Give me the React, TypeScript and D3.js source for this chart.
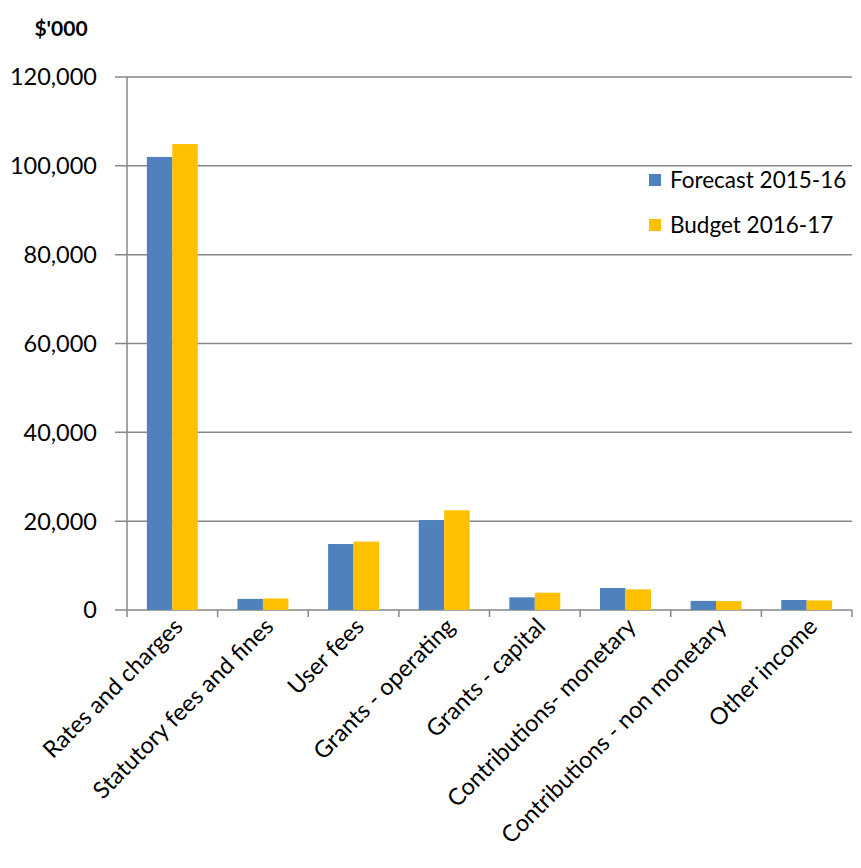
import { useMemo } from "react";
import * as d3 from "d3";

const categories = [
  "Rates and charges",
  "Statutory fees and fines",
  "User fees",
  "Grants - operating",
  "Grants - capital",
  "Contributions- monetary",
  "Contributions - non monetary",
  "Other income",
];
const forecast = [102000, 2500, 14850, 20250, 2850, 4950, 2050, 2250];
const budget = [104900, 2600, 15400, 22450, 3900, 4650, 2000, 2150];
const seriesNames = ["Forecast 2015-16", "Budget 2016-17"];
const seriesColors = ["#4F81BD", "#FFC000"];
const yTicks = [0, 20000, 40000, 60000, 80000, 100000, 120000];

const W = 861;
const H = 868;
const left = 127;
const right = 852;
const top = 77;
const bottom = 610;
const font = "Lato, 'Open Sans', sans-serif";
const fs = 23.5;

export default function App() {
  const x = useMemo(
    () => d3.scaleBand<string>().domain(categories).range([left, right]).paddingInner(0).paddingOuter(0),
    [],
  );
  const inner = useMemo(
    () => d3.scaleBand<number>().domain([0, 1]).range([0, x.bandwidth()]).paddingOuter(0.78).paddingInner(0),
    [x],
  );
  const y = useMemo(() => d3.scaleLinear().domain([0, 120000]).range([bottom, top]), []);
  const fmt = d3.format(",");
  const series = [forecast, budget];

  return (
    <svg width={W} height={H} style={{ display: "block", margin: -8 }} fontFamily={font}>
      <rect width={W} height={H} fill="#fff" />
      <text x={61} y={36} textAnchor="middle" fontWeight="bold" fontSize={21} fill="#000">
        $'000
      </text>
      {yTicks.map((t) => (
        <g key={t}>
          <line x1={left - 12} x2={right} y1={y(t)} y2={y(t)} stroke="#878787" strokeWidth={1.5} />
          <text x={97} y={y(t)} dy="0.36em" textAnchor="end" fontSize={fs} fill="#000">
            {fmt(t)}
          </text>
        </g>
      ))}
      <line x1={left} x2={left} y1={top} y2={bottom} stroke="#878787" strokeWidth={1.5} />
      {categories.map((c, i) => (
        <g key={c}>
          {series.map((s, k) => (
            <rect
              key={k}
              x={(x(c) ?? 0) + (inner(k) ?? 0)}
              y={y(s[i])}
              width={inner.bandwidth()}
              height={y(0) - y(s[i])}
              fill={seriesColors[k]}
            />
          ))}
        </g>
      ))}
      {d3.range(categories.length + 1).map((i) => {
        const xx = left + i * x.bandwidth();
        return <line key={i} x1={xx} x2={xx} y1={bottom} y2={bottom + 7} stroke="#878787" strokeWidth={1.5} />;
      })}
      {categories.map((c) => {
        const cx = (x(c) ?? 0) + x.bandwidth() / 2 + 12;
        return (
          <text
            key={c}
            transform={`translate(${cx},${bottom + 18}) rotate(-45)`}
            textAnchor="end"
            fontSize={fs}
            fill="#000"
          >
            {c}
          </text>
        );
      })}
      {seriesNames.map((n, k) => (
        <g key={n} transform={`translate(649,${174 + k * 45})`}>
          <rect width={12} height={12} fill={seriesColors[k]} />
          <text x={21} y={6} dy="0.36em" fontSize={22.5} fill="#000">
            {n}
          </text>
        </g>
      ))}
    </svg>
  );
}
